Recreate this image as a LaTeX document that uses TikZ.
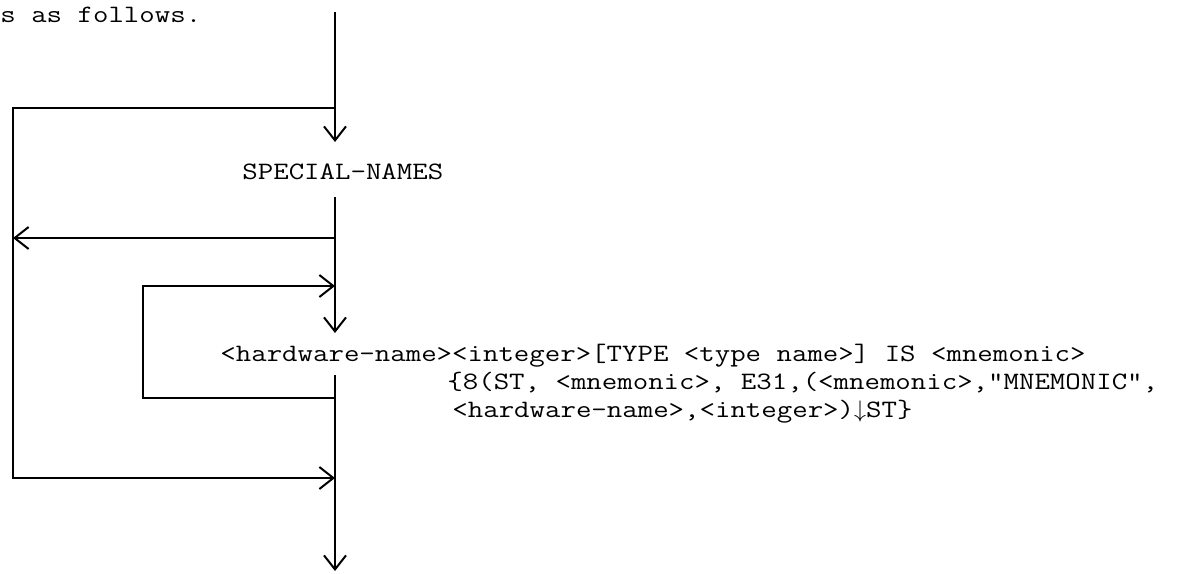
\documentclass[tikz,border=0pt]{standalone}
\usepackage{fontspec}
\setmonofont{Latin Modern Mono}[FakeStretch=1.2]
\usetikzlibrary{arrows.meta}

\begin{document}
\begin{tikzpicture}[
		x=0.5pt, y=-0.5pt,
		font=\ttfamily\fontsize{12.5}{14}\selectfont,
		>={Straight Barb[length=7pt,width=11pt]},
		syntax/.style={anchor=base west, inner sep=0pt},
		flow/.style={->, line width=1pt}
		]
		\useasboundingbox (0,0) rectangle (1193,573);
		% points on the main line
		\coordinate (top) at (335,12);
		\coordinate (j1) at (335,108);
		\coordinate (a1) at (335,142);
		\coordinate (b1) at (335,197);
		\coordinate (j2) at (335,238);
		\coordinate (j3) at (335,286);
		\coordinate (a2) at (335,333);
		\coordinate (b2) at (335,375);
		\coordinate (j4) at (335,398);
		\coordinate (j5) at (335,478);
		\coordinate (a3) at (335,571);
		% corners of the loops
		\coordinate (o1) at (13,108);
		\coordinate (o2) at (13,478);
		\coordinate (o3) at (13,238);
		\coordinate (i1) at (143,286);
		\coordinate (i2) at (143,398);
		
		\node[syntax] (intro) at (0,22) {s as follows.};
		\node[syntax] (sn) at (242,179) {SPECIAL-NAMES};
		\node[syntax] (hw1) at (220,361) {<hardware-name><integer>[TYPE <type name>] IS <mnemonic>};
		\node[syntax] (hw2) at (447,389) {\{8(ST, <mnemonic>, E31,(<mnemonic>,"MNEMONIC",};
		\node[syntax] (hw3) at (452,417) {<hardware-name>,<integer>)$\downarrow$ST\}};
		
		\draw[flow] (top) -- (a1);
		\draw[flow] (b1) -- (a2);
		\draw[flow] (b2) -- (a3);
		\draw[flow] (j1) -- (o1) -- (o2) -- (j5);
		\draw[flow] (j2) -- (o3);
		\draw[flow] (j4) -- (i2) -- (i1) -- (j3);
	\end{tikzpicture}
\end{document}
